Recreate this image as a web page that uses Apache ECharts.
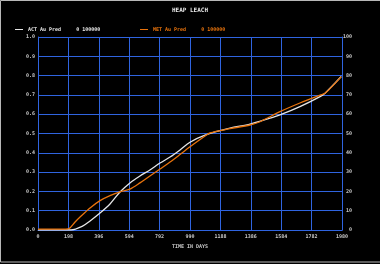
<!DOCTYPE html>
<html><head><meta charset="utf-8">
<script src="https://cdn.jsdelivr.net/npm/echarts@6/dist/echarts.min.js"></script>
<style>html,body{margin:0;padding:0;background:#000;}#c{width:380px;height:264px;}</style>
</head><body><div id="c"></div>
<script>
const xTicks = [0, 198, 396, 594, 792, 990, 1188, 1386, 1584, 1782, 1980];
const actDays = [0, 215, 290, 339, 404, 469, 534, 599, 664, 729, 795, 860, 925, 990, 1088, 1251, 1381, 1511, 1576, 1706, 1837, 1869, 1975];
const actVals = [0, 0, 0.02, 0.047, 0.088, 0.135, 0.197, 0.244, 0.280, 0.311, 0.347, 0.378, 0.415, 0.455, 0.492, 0.528, 0.549, 0.580, 0.596, 0.639, 0.691, 0.708, 0.795];
const metDays = [0, 182, 202, 240, 274, 339, 404, 469, 534, 599, 664, 729, 795, 860, 925, 990, 1088, 1120, 1251, 1381, 1446, 1576, 1706, 1837, 1869, 1975];
const metVals = [0.005, 0.005, 0.007, 0.04, 0.067, 0.114, 0.152, 0.178, 0.197, 0.212, 0.244, 0.28, 0.316, 0.352, 0.391, 0.431, 0.487, 0.503, 0.525, 0.544, 0.561, 0.613, 0.658, 0.699, 0.708, 0.795];
const seriesNames = ['ACT Au Pred', 'MET Au Pred'];
const legendSuffix = '     0 100000';

const font = 'DejaVu Sans Mono';
const blue = '#2f64e0';
const lab = '#c8c8c8';
const chart = echarts.init(document.getElementById('c'), null, {renderer: 'canvas'});
chart.setOption({
  backgroundColor: '#000',
  animation: false,
  title: {text: 'HEAP LEACH', left: 'center', top: 2,
    textStyle: {color: '#e8e8e8', fontFamily: font, fontSize: 6, fontWeight: 'bold'}},
  legend: [
    {data: [seriesNames[0]], left: 10, top: 22, icon: 'rect', itemWidth: 8, itemHeight: 1,
      formatter: n => n + legendSuffix,
      textStyle: {color: '#e8e8e8', fontFamily: font, fontSize: 5, fontWeight: 'bold'}},
    {data: [seriesNames[1]], left: 135, top: 22, icon: 'rect', itemWidth: 8, itemHeight: 1,
      formatter: n => n + legendSuffix,
      textStyle: {color: '#e8730c', fontFamily: font, fontSize: 5, fontWeight: 'bold'}}
  ],
  graphic: [{type: 'rect', shape: {x: 0.5, y: 0.5, width: 390, height: 261.5},
    style: {fill: 'none', stroke: '#b8b8b8', lineWidth: 1}, silent: true}],
  grid: {left: 38, right: 38, top: 37, bottom: 34},
  xAxis: {type: 'value', min: 0, max: 1980, interval: 198,
    name: 'TIME IN DAYS', nameLocation: 'middle', nameGap: 12,
    nameTextStyle: {color: lab, fontFamily: font, fontSize: 5, fontWeight: 'bold'},
    axisLine: {show: true, lineStyle: {color: blue, width: 1}},
    axisTick: {show: false},
    axisLabel: {color: lab, fontFamily: font, fontSize: 5, fontWeight: 'bold', margin: 4,
      showMinLabel: true, showMaxLabel: true, formatter: v => String(v)},
    splitLine: {show: true, lineStyle: {color: blue, width: 1, opacity: 1}}},
  yAxis: [
    {type: 'value', min: 0, max: 1, interval: 0.1, position: 'left',
      axisLine: {show: true, lineStyle: {color: blue, width: 1}},
      axisTick: {show: false},
      axisLabel: {color: lab, fontFamily: font, fontSize: 5, fontWeight: 'bold', margin: 3,
        formatter: v => v.toFixed(1)},
      splitLine: {show: true, lineStyle: {color: blue, width: 1, opacity: 1}}},
    {type: 'value', min: 0, max: 100, interval: 10, position: 'right',
      axisLine: {show: true, lineStyle: {color: blue, width: 1}},
      axisTick: {show: false},
      axisLabel: {color: lab, fontFamily: font, fontSize: 5, fontWeight: 'bold', margin: 10, align: 'right'},
      splitLine: {show: true, lineStyle: {color: blue, width: 1, opacity: 1}}}
  ],
  series: [
    {name: seriesNames[0], type: 'line', yAxisIndex: 0, showSymbol: false, smooth: 0.3,
      color: '#e6e6e6', lineStyle: {width: 1.3},
      data: actDays.map((d, i) => [d, actVals[i]]), z: 3},
    {name: seriesNames[1], type: 'line', yAxisIndex: 0, showSymbol: false, smooth: 0.3,
      color: '#e8730c', lineStyle: {width: 1.3},
      data: metDays.map((d, i) => [d, metVals[i]]), z: 4}
  ]
});
</script></body></html>
